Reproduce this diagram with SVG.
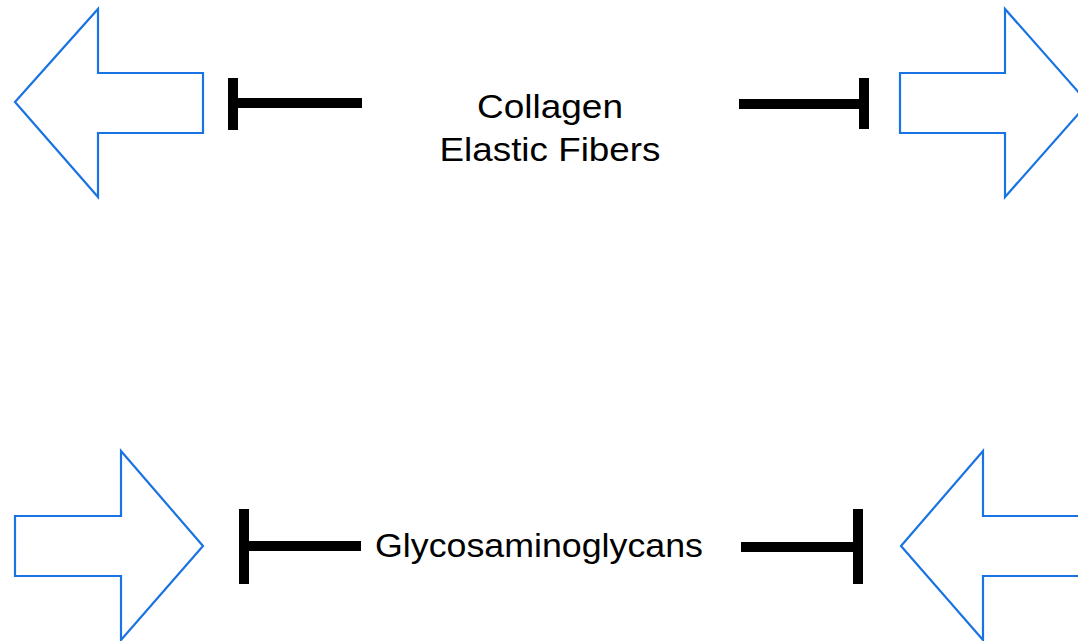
<svg xmlns="http://www.w3.org/2000/svg" width="1078" height="641" viewBox="0 0 1078 641">
<style>
.arrow{fill:#fff;stroke:#1a73e3;stroke-width:2.2;stroke-linejoin:miter}
.bar{stroke:#000;stroke-width:10;fill:none}
.lbl{font-family:"Liberation Sans",Arial,sans-serif;font-size:34px;fill:#000;text-anchor:middle}
</style>
<rect width="1078" height="641" fill="#fff"/>
<g id="arrow-top-left"><polygon class="arrow" points="15,102 98,9 98,73 203,73 203,133 98,133 98,197"/></g>
<g id="arrow-top-right"><polygon class="arrow" points="1088,103 1005,9 1005,73 900,73 900,133 1005,133 1005,197"/></g>
<g id="arrow-bottom-left"><polygon class="arrow" points="203,546 121,451 121,516 15,516 15,576 121,576 121,640"/></g>
<g id="arrow-bottom-right"><polygon class="arrow" points="901,546 983,451 983,516 1090,516 1090,576 983,576 983,640"/></g>
<g id="connectors">
<line class="bar" x1="233" y1="78" x2="233" y2="130"/>
<line class="bar" x1="233" y1="103" x2="362" y2="103"/>
<line class="bar" x1="864" y1="78" x2="864" y2="129"/>
<line class="bar" x1="739" y1="104" x2="864" y2="104"/>
<line class="bar" x1="244" y1="509" x2="244" y2="584"/>
<line class="bar" x1="244" y1="546" x2="361" y2="546"/>
<line class="bar" x1="858" y1="509" x2="858" y2="584"/>
<line class="bar" x1="741" y1="547" x2="858" y2="547"/>
</g>
<g id="label-collagen"><text class="lbl" x="550" y="118" textLength="146" lengthAdjust="spacingAndGlyphs">Collagen</text><text class="lbl" x="550" y="161" textLength="221" lengthAdjust="spacingAndGlyphs">Elastic Fibers</text></g>
<g id="label-gag"><text class="lbl" x="539" y="557" textLength="328" lengthAdjust="spacingAndGlyphs">Glycosaminoglycans</text></g>
</svg>
